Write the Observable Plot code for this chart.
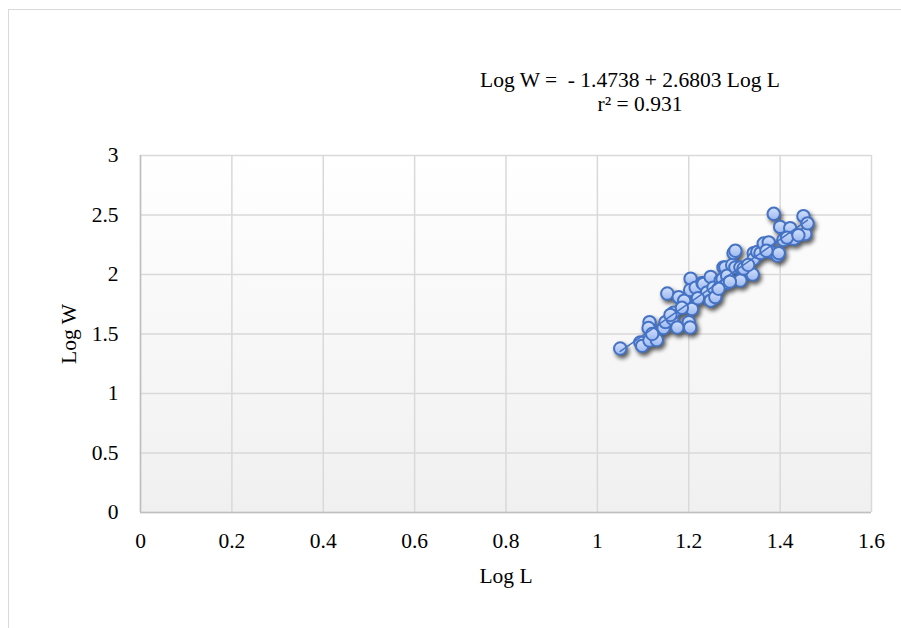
<!DOCTYPE html>
<html>
<head>
<meta charset="utf-8">
<script src="https://cdn.jsdelivr.net/npm/d3@7"></script>
<script src="https://cdn.jsdelivr.net/npm/@observablehq/plot@0.6"></script>
<style>
  html, body { margin: 0; padding: 0; background: #fff; }
  #wrap { position: relative; width: 901px; height: 628px; overflow: hidden; font-family: "Liberation Serif", "Times New Roman", serif; }
  #border { position: absolute; left: 8px; top: 9px; width: 1000px; height: 1000px; border-left: 1.5px solid #d9d9d9; border-top: 1.5px solid #d9d9d9; }
  .eq { position: absolute; font-size: 21.5px; line-height: 24px; white-space: pre; transform: translateX(-50%); color: #000; }
  #chart { position: absolute; left: 0; top: 0; }
  g[aria-label="dot"] { filter: drop-shadow(2px 3px 2px rgba(0,0,0,0.65)); }
</style>
</head>
<body>
<div id="wrap">
  <div id="border"></div>
  <div id="chart"></div>
  <div class="eq" id="eq1" style="left:630px; top:68px;"></div>
  <div class="eq" id="eq2" style="left:640px; top:92px;"></div>
</div>
<script>
// Data
const logL = [1.050, 1.094, 1.098, 1.114, 1.114, 1.112, 1.130, 1.145, 1.149, 1.153, 1.164, 1.167, 1.175, 1.178, 1.190, 1.200, 1.203, 1.204, 1.207, 1.203, 1.215, 1.230, 1.232, 1.240, 1.248, 1.248, 1.254, 1.258, 1.270, 1.274, 1.276, 1.280, 1.284, 1.284, 1.295, 1.298, 1.302, 1.302, 1.313, 1.313, 1.340, 1.342, 1.342, 1.350, 1.357, 1.364, 1.375, 1.379, 1.386, 1.394, 1.397, 1.400, 1.407, 1.422, 1.430, 1.451, 1.455, 1.460, 1.120, 1.160, 1.185, 1.220, 1.265, 1.290, 1.320, 1.330, 1.370, 1.415, 1.440];
const logW = [1.378, 1.430, 1.400, 1.445, 1.600, 1.550, 1.450, 1.550, 1.600, 1.840, 1.630, 1.680, 1.555, 1.810, 1.780, 1.600, 1.555, 1.965, 1.710, 1.870, 1.890, 1.930, 1.920, 1.850, 1.780, 1.980, 1.890, 1.810, 1.950, 1.960, 2.060, 2.060, 1.930, 1.990, 2.080, 2.180, 2.060, 2.200, 1.950, 2.060, 2.000, 2.180, 2.130, 2.190, 2.180, 2.260, 2.270, 2.190, 2.510, 2.160, 2.180, 2.400, 2.290, 2.390, 2.300, 2.490, 2.340, 2.430, 1.500, 1.660, 1.720, 1.800, 1.880, 1.940, 2.050, 2.080, 2.200, 2.310, 2.330];
const xTicks = [0, 0.2, 0.4, 0.6, 0.8, 1, 1.2, 1.4, 1.6];
const yTicks = [0, 0.5, 1, 1.5, 2, 2.5, 3];
const equationLine1 = "Log W =  - 1.4738 + 2.6803 Log L";
const equationLine2 = "r² = 0.931";
const xLabel = "Log L";
const yLabel = "Log W";

const data = logL.map((x, i) => ({x, y: logW[i]}));
const fmt = d => String(+d.toFixed(2));

const chart = Plot.plot({
  width: 901,
  height: 628,
  marginLeft: 140,
  marginRight: 30,
  marginTop: 155,
  marginBottom: 116,
  style: { fontFamily: "Liberation Serif, Times New Roman, serif", fontSize: "21.5px", color: "#000", background: "transparent", overflow: "visible" },
  x: { domain: [0, 1.6] },
  y: { domain: [0, 3] },
  marks: [
    Plot.frame({ fill: "url(#bgGrad)", stroke: "none" }),
    Plot.gridX(xTicks, { stroke: "#d9d9d9", strokeOpacity: 1, strokeWidth: 1.5 }),
    Plot.gridY(yTicks, { stroke: "#d9d9d9", strokeOpacity: 1, strokeWidth: 1.5 }),
    Plot.ruleX([0], { stroke: "#bfbfbf", strokeWidth: 1.5 }),
    Plot.ruleY([0], { stroke: "#bfbfbf", strokeWidth: 1.5 }),
    Plot.axisX(xTicks, { tickSize: 0, tickPadding: 20, tickFormat: fmt, label: xLabel, labelAnchor: "center", labelOffset: 70, labelArrow: "none" }),
    Plot.axisY(yTicks, { tickSize: 0, tickPadding: 22, tickFormat: fmt, label: yLabel, labelAnchor: "center", labelOffset: 80, labelArrow: "none" }),
    Plot.dot(data, { x: "x", y: "y", r: 6.2, fill: "url(#dotGrad)", stroke: "#4472c4", strokeWidth: 2 }),
    Plot.linearRegressionY(data, { x: "x", y: "y", stroke: "#4472c4", strokeWidth: 1.5, ci: 0 })
  ]
});

// gradient definitions used by the frame and dots
const defs = d3.select(chart).insert("defs", ":first-child");
const bg = defs.append("linearGradient").attr("id", "bgGrad").attr("x1", 0).attr("y1", 0).attr("x2", 0).attr("y2", 1);
bg.append("stop").attr("offset", "0%").attr("stop-color", "#ffffff");
bg.append("stop").attr("offset", "100%").attr("stop-color", "#f0f0f0");
const dg = defs.append("linearGradient").attr("id", "dotGrad").attr("x1", 0).attr("y1", 0).attr("x2", 0).attr("y2", 1);
dg.append("stop").attr("offset", "0%").attr("stop-color", "#d2e0fb");
dg.append("stop").attr("offset", "100%").attr("stop-color", "#9db9f0");

document.getElementById("chart").appendChild(chart);
document.getElementById("eq1").textContent = equationLine1;
document.getElementById("eq2").textContent = equationLine2;
</script>
</body>
</html>
